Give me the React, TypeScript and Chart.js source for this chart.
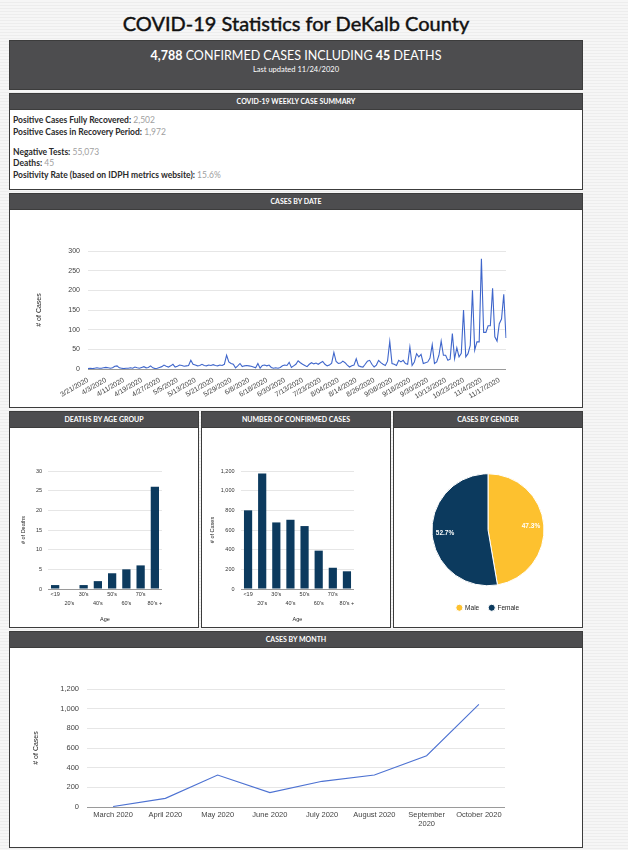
import React, { useEffect, useRef } from "react";
import { Chart, registerables } from "chart.js";

Chart.register(...registerables);
Chart.defaults.font.family = "'Liberation Sans', Arial, sans-serif";
Chart.defaults.color = "#444";

// ---------- data ----------
const DATE_TICKS = [
  "3/21/2020", "4/3/2020", "4/11/2020", "4/19/2020", "4/27/2020", "5/5/2020",
  "5/13/2020", "5/21/2020", "5/29/2020", "6/8/2020", "6/18/2020", "6/30/2020",
  "7/13/2020", "7/23/2020", "8/04/2020", "8/14/2020", "8/26/2020", "9/08/2020",
  "9/18/2020", "9/30/2020", "10/13/2020", "10/23/2020", "11/4/2020", "11/17/2020",
];
const TICK_EVERY = 8;
const DAILY_CASES = [
  1, 2, 1, 2, 3, 2, 2, 3, 4, 3, 2, 3,
  7, 8, 3, 2, 1, 2, 2, 3, 2, 5, 3, 2,
  4, 6, 3, 4, 8, 3, 1, 2, 4, 6, 10, 7,
  5, 8, 12, 5, 7, 10, 9, 7, 8, 9, 22, 12,
  10, 8, 9, 12, 9, 8, 10, 9, 11, 9, 8, 10,
  9, 12, 35, 18, 14, 12, 3, 8, 14, 6, 8, 9,
  8, 7, 5, 3, 14, 2, 9, 10, 8, 10, 4, 2,
  3, 2, 4, 8, 10, 9, 17, 4, 8, 12, 21, 16,
  12, 9, 6, 12, 16, 13, 15, 12, 16, 19, 12, 8,
  10, 15, 42, 19, 14, 15, 20, 16, 10, 5, 8, 10,
  26, 8, 6, 5, 12, 20, 22, 12, 5, 10, 22, 16,
  12, 9, 20, 70, 14, 12, 9, 22, 18, 22, 14, 12,
  56, 9, 18, 39, 31, 37, 14, 16, 18, 28, 62, 14,
  18, 35, 71, 35, 35, 22, 25, 90, 26, 54, 31, 40,
  150, 31, 39, 60, 200, 48, 69, 69, 280, 93, 93, 110,
  110, 205, 82, 71, 115, 127, 190, 79,
];
const DATE_LABELS = DAILY_CASES.map((_, i) =>
  i % TICK_EVERY === 0 ? DATE_TICKS[i / TICK_EVERY] ?? "" : ""
);

const AGE_GROUPS = ["<19", "20's", "30's", "40's", "50's", "60's", "70's", "80's +"];
const DEATHS_BY_AGE = [1, 0, 1, 2, 4, 5, 6, 26];
const CASES_BY_AGE = [800, 1175, 677, 704, 640, 390, 216, 180];

const GENDERS = ["Male", "Female"];
const GENDER_SHARE = [47.3, 52.7];

const MONTHS = [
  "March 2020", "April 2020", "May 2020", "June 2020",
  "July 2020", "August 2020", "September 2020", "October 2020",
];
const MONTHLY_CASES = [5, 88, 325, 146, 261, 325, 522, 1044];

// ---------- style ----------
const NAVY = "#0c3a5e";
const YELLOW = "#fdc12f";
const LINE_BLUE = "#3f66cb";
const HEADER_BG = "#4d4d4f";
const GRID = "#e6e6e6";
const BASE = "#9a9a9a";

const gridColor = (c: any) => (c.tick && c.tick.value === 0 ? BASE : GRID);

function ChartCanvas({ left, top, width, height, make }: any) {
  const ref = useRef<HTMLCanvasElement>(null);
  useEffect(() => {
    const chart = new Chart(ref.current as HTMLCanvasElement, make());
    return () => chart.destroy();
  }, []);
  return (
    <div style={{ position: "absolute", left, top, width, height }}>
      <canvas ref={ref} />
    </div>
  );
}

function Panel({ title, left, top, width, height, children }: any) {
  return (
    <div
      style={{
        position: "absolute",
        left,
        top,
        width,
        height,
        boxSizing: "border-box",
        border: "1px solid #3c3c3c",
        background: "#fff",
      }}
    >
      <div
        style={{
          height: 15,
          background: HEADER_BG,
          color: "#fff",
          fontFamily: "Lato, sans-serif",
          fontWeight: 700,
          fontSize: 7,
          lineHeight: "15px",
          textAlign: "center",
          borderBottom: "1px solid #3c3c3c",
        }}
      >
        {title}
      </div>
      {children}
    </div>
  );
}

function datesConfig(): any {
  return {
    type: "line",
    data: {
      labels: DATE_LABELS,
      datasets: [
        {
          data: DAILY_CASES,
          borderColor: LINE_BLUE,
          borderWidth: 1.1,
          pointRadius: 0,
          tension: 0,
          fill: false,
        },
      ],
    },
    options: {
      animation: false,
      responsive: true,
      maintainAspectRatio: false,
      layout: { padding: { top: 41, right: 76, left: 0, bottom: 0 } },
      plugins: { legend: { display: false }, tooltip: { enabled: false } },
      scales: {
        x: {
          grid: { display: false, drawTicks: false },
          border: { display: false },
          ticks: {
            autoSkip: false,
            minRotation: 30,
            maxRotation: 30,
            padding: 7,
            font: { size: 7 },
            color: "#444",
          },
          afterFit: (s: any) => {
            s.height = 38;
          },
        },
        y: {
          min: 0,
          max: 300,
          ticks: { stepSize: 50, padding: 8, font: { size: 7 }, color: "#444" },
          grid: { drawTicks: false, color: gridColor },
          border: { display: false },
          title: {
            display: true,
            text: "# of Cases",
            padding: { top: 25, bottom: 0 },
            font: { size: 7 },
            color: "#222",
          },
          afterFit: (s: any) => {
            s.width = 78;
          },
        },
      },
    },
  };
}

function barConfig(values: number[], max: number, step: number, yTitle: string, labelPad: number, titlePad: number, axisWidth: number): any {
  return {
    type: "bar",
    data: {
      labels: AGE_GROUPS,
      datasets: [
        {
          data: values,
          backgroundColor: NAVY,
          categoryPercentage: 1,
          barPercentage: 0.58,
        },
      ],
    },
    options: {
      animation: false,
      responsive: true,
      maintainAspectRatio: false,
      layout: { padding: { top: 43, right: 36, left: 0, bottom: 0 } },
      plugins: { legend: { display: false }, tooltip: { enabled: false } },
      scales: {
        x: {
          grid: { display: false, drawTicks: false },
          border: { display: false },
          ticks: {
            autoSkip: false,
            maxRotation: 0,
            padding: 1,
            font: { size: 5.5, lineHeight: 1.6 },
            color: "#333",
            callback: function (this: any, v: any, i: number) {
              const l = this.getLabelForValue(v);
              return i % 2 ? ["", l] : l;
            },
          },
          title: {
            display: true,
            text: "Age",
            padding: { top: 0, bottom: 4 },
            font: { size: 5.5 },
            color: "#222",
          },
          afterFit: (s: any) => {
            s.height = 38;
          },
        },
        y: {
          min: 0,
          max,
          ticks: { stepSize: step, padding: labelPad, font: { size: 5.5 }, color: "#333" },
          grid: { drawTicks: false, color: gridColor },
          border: { display: false },
          title: {
            display: true,
            text: yTitle,
            padding: { top: titlePad, bottom: 0 },
            font: { size: 5.5 },
            color: "#222",
          },
          afterFit: (s: any) => {
            s.width = axisWidth;
          },
        },
      },
    },
  };
}

const sliceLabels = {
  id: "sliceLabels",
  afterDatasetsDraw(chart: any) {
    const { ctx } = chart;
    const meta = chart.getDatasetMeta(0);
    const data = chart.data.datasets[0].data as number[];
    const total = data.reduce((a, b) => a + b, 0);
    meta.data.forEach((arc: any, i: number) => {
      const p = arc.getProps(["x", "y", "startAngle", "endAngle", "outerRadius"], true);
      const mid = (p.startAngle + p.endAngle) / 2;
      const r = p.outerRadius * 0.77;
      ctx.save();
      ctx.fillStyle = "#fff";
      ctx.font = "bold 6.5px 'Liberation Sans', Arial, sans-serif";
      ctx.textAlign = "center";
      ctx.textBaseline = "middle";
      ctx.fillText(((data[i] / total) * 100).toFixed(1) + "%", p.x + Math.cos(mid) * r, p.y + Math.sin(mid) * r);
      ctx.restore();
    });
  },
};

function pieConfig(): any {
  return {
    type: "pie",
    data: {
      labels: GENDERS,
      datasets: [
        {
          data: GENDER_SHARE,
          backgroundColor: [YELLOW, NAVY],
          borderColor: "#fff",
          borderWidth: 1,
          radius: 56,
        },
      ],
    },
    options: {
      animation: false,
      responsive: true,
      maintainAspectRatio: false,
      layout: { padding: { top: 37, bottom: 6, left: 0, right: 0 } },
      plugins: {
        tooltip: { enabled: false },
        legend: {
          position: "bottom",
          labels: {
            usePointStyle: true,
            pointStyle: "circle",
            boxWidth: 5,
            boxHeight: 5,
            padding: 10,
            font: { size: 6.5 },
            color: "#222",
          },
        },
      },
    },
    plugins: [sliceLabels],
  };
}

function monthConfig(): any {
  return {
    type: "line",
    data: {
      labels: MONTHS,
      datasets: [
        {
          data: MONTHLY_CASES,
          borderColor: "#4d72d2",
          borderWidth: 1.1,
          pointRadius: 0,
          tension: 0,
          fill: false,
        },
      ],
    },
    options: {
      animation: false,
      responsive: true,
      maintainAspectRatio: false,
      layout: { padding: { top: 41, right: 77, left: 0, bottom: 0 } },
      plugins: { legend: { display: false }, tooltip: { enabled: false } },
      scales: {
        x: {
          offset: true,
          grid: { display: false, drawTicks: false },
          border: { display: false },
          ticks: {
            autoSkip: false,
            maxRotation: 0,
            padding: 3,
            font: { size: 7.5 },
            color: "#444",
            callback: function (this: any, v: any) {
              const l = this.getLabelForValue(v) as string;
              return l.length > 12 ? l.split(" ") : l;
            },
          },
          afterFit: (s: any) => {
            s.height = 40;
          },
        },
        y: {
          min: 0,
          max: 1200,
          ticks: { stepSize: 200, padding: 8, font: { size: 7.5 }, color: "#444" },
          grid: { drawTicks: false, color: gridColor },
          border: { display: false },
          title: {
            display: true,
            text: "# of Cases",
            padding: { top: 22, bottom: 0 },
            font: { size: 7 },
            color: "#222",
          },
          afterFit: (s: any) => {
            s.width = 77;
          },
        },
      },
    },
  };
}

const lato = "Lato, sans-serif";

export default function App() {
  const summaryLabel: React.CSSProperties = { fontWeight: 700, color: "#2a2a2a" };
  const summaryValue: React.CSSProperties = { fontWeight: 400, color: "#a0a0a0" };
  return (
    <div
      style={{
        position: "absolute",
        left: 0,
        top: 0,
        width: 628,
        height: 850,
        overflow: "hidden",
        background: "repeating-linear-gradient(180deg, #f6f6f6 0px, #f6f6f6 2px, #ededed 2px, #ededed 3px)",
        fontFamily: lato,
      }}
    >
      <div
        style={{
          position: "absolute",
          left: 9,
          top: 9,
          width: 574,
          height: 28,
          lineHeight: "28px",
          textAlign: "center",
          fontSize: 20,
          fontWeight: 400,
          WebkitTextStroke: "0.45px #111",
          color: "#111",
        }}
      >
        COVID-19 Statistics for DeKalb County
      </div>

      <div
        style={{
          position: "absolute",
          left: 9,
          top: 40,
          width: 574,
          height: 50,
          boxSizing: "border-box",
          background: HEADER_BG,
          border: "1px solid #3c3c3c",
          color: "#fff",
          textAlign: "center",
        }}
      >
        <div style={{ position: "absolute", left: 0, right: 0, top: 7, fontSize: 12.5, lineHeight: "15px" }}>
          <b>4,788</b> CONFIRMED CASES INCLUDING <b>45</b> DEATHS
        </div>
        <div style={{ position: "absolute", left: 0, right: 0, top: 24, fontSize: 7.5, lineHeight: "10px" }}>
          Last updated 11/24/2020
        </div>
      </div>

      <Panel title="COVID-19 WEEKLY CASE SUMMARY" left={9} top={93} width={574} height={97}>
        <div style={{ padding: "5px 0 0 3px", fontSize: 8.5, lineHeight: "11.5px" }}>
          <div>
            <span style={summaryLabel}>Positive Cases Fully Recovered:</span> <span style={summaryValue}>2,502</span>
          </div>
          <div>
            <span style={summaryLabel}>Positive Cases in Recovery Period:</span> <span style={summaryValue}>1,972</span>
          </div>
          <div style={{ marginTop: 8.5 }}>
            <span style={summaryLabel}>Negative Tests:</span> <span style={summaryValue}>55,073</span>
          </div>
          <div>
            <span style={summaryLabel}>Deaths:</span> <span style={summaryValue}>45</span>
          </div>
          <div>
            <span style={summaryLabel}>Positivity Rate (based on IDPH metrics website):</span>{" "}
            <span style={summaryValue}>15.6%</span>
          </div>
        </div>
      </Panel>

      <Panel title="CASES BY DATE" left={9} top={193} width={574} height={215}>
        <ChartCanvas left={0} top={16} width={572} height={197} make={datesConfig} />
      </Panel>

      <Panel title="DEATHS BY AGE GROUP" left={9} top={411} width={190} height={217}>
        <ChartCanvas
          left={0}
          top={16}
          width={188}
          height={199}
          make={() => barConfig(DEATHS_BY_AGE, 30, 5, "# of Deaths", 6, 10, 38)}
        />
      </Panel>

      <Panel title="NUMBER OF CONFIRMED CASES" left={201} top={411} width={190} height={217}>
        <ChartCanvas
          left={0}
          top={16}
          width={188}
          height={199}
          make={() => barConfig(CASES_BY_AGE, 1200, 200, "# of Cases", 6.5, 7, 39)}
        />
      </Panel>

      <Panel title="CASES BY GENDER" left={393} top={411} width={190} height={217}>
        <ChartCanvas left={0} top={16} width={188} height={199} make={pieConfig} />
      </Panel>

      <Panel title="CASES BY MONTH" left={9} top={631} width={574} height={217}>
        <ChartCanvas left={0} top={16} width={572} height={199} make={monthConfig} />
      </Panel>
    </div>
  );
}
